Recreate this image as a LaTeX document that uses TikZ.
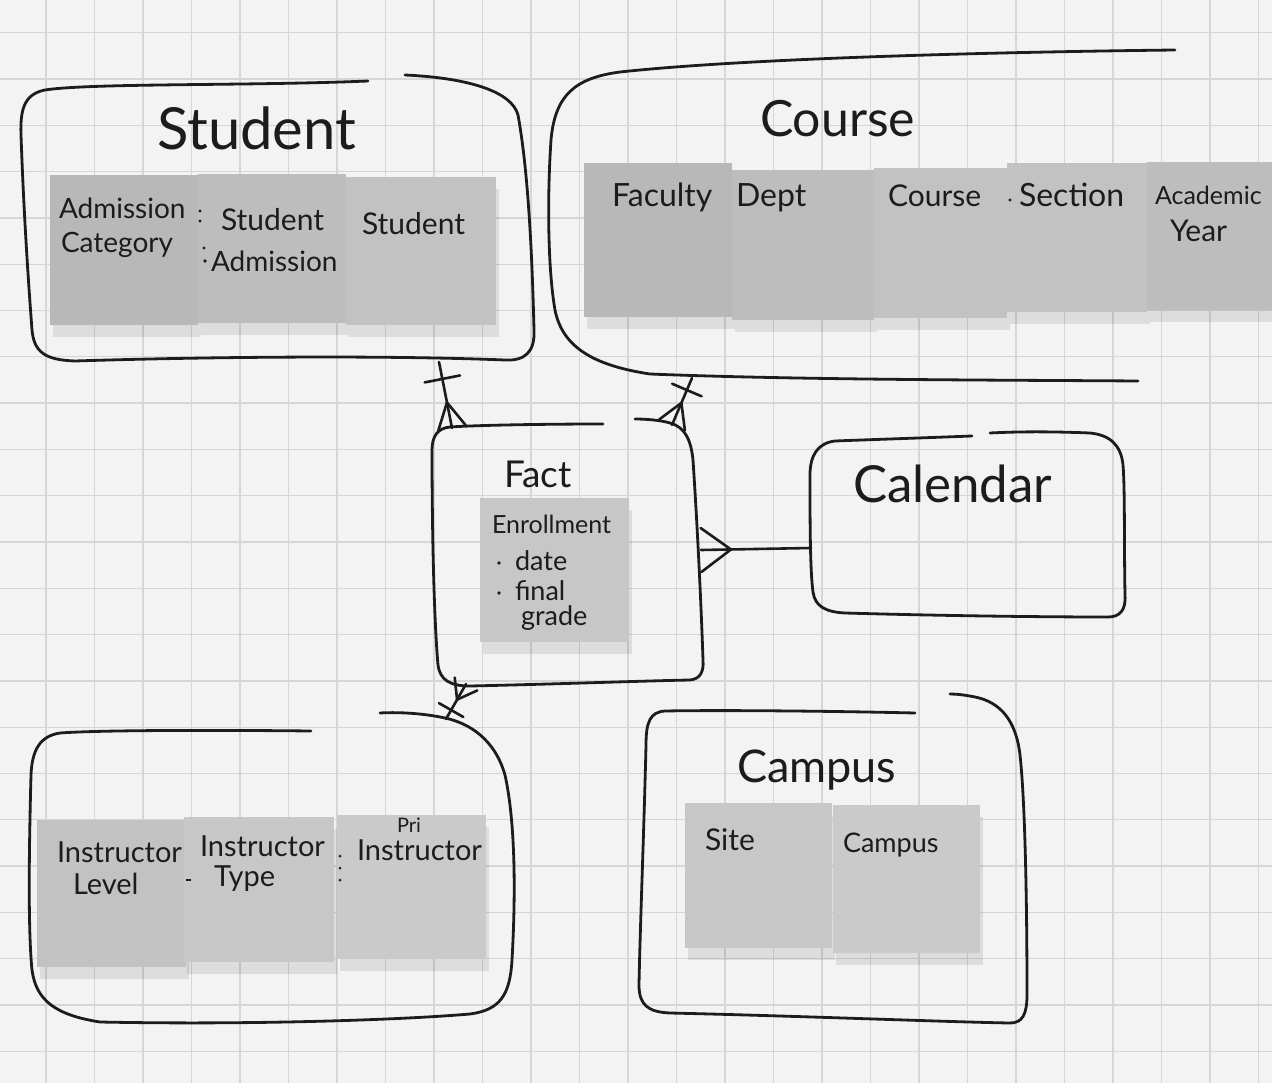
\documentclass[tikz,border=0pt]{standalone}
\usepackage{fontspec}
\setmainfont{Lato}
\usetikzlibrary{calc,shadows}
\definecolor{ink}{HTML}{1C1C1C}
\definecolor{paper}{HTML}{F3F3F3}
\definecolor{gridc}{HTML}{D6D6D6}
\definecolor{nA}{HTML}{B8B8B8}
\definecolor{nB}{HTML}{BDBDBD}
\definecolor{nC}{HTML}{C2C2C2}
\definecolor{nD}{HTML}{C7C7C7}
\definecolor{nE}{HTML}{CACACA}
\newcommand{\crowfoot}[4]{%
  \path ($(#1)!#3!(#2)$) coordinate (cfapex);
  \draw[link] ($(#1)!#4!90:(#2)$) -- (cfapex) -- ($(#1)!#4!-90:(#2)$);
}
\newcommand{\onebar}[4]{%
  \path ($(#1)!#3!(#2)$) coordinate (obmid);
  \draw[link] ($(obmid)!#4!90:(#2)$) -- ($(obmid)!#4!-90:(#2)$);
}
\begin{document}
\begin{tikzpicture}[x=1pt,y=-1pt,
  hand/.style={draw=ink,line width=2.8pt,line cap=round,line join=round},
  link/.style={draw=ink,line width=2.6pt,line cap=round,line join=round},
  gridline/.style={draw=gridc,line width=1.3pt},
  note/.style={fill=#1,draw=none,inner sep=0pt,outer sep=0pt,anchor=north west,
    drop shadow={shadow xshift=3pt,shadow yshift=-12pt,opacity=0.09,fill=black}},
  lbl/.style={anchor=base west,inner sep=0pt,outer sep=0pt,text=ink},
  fs/.style={font=\fontsize{#1}{#1}\selectfont},
  dot/.style={fill=ink}]
\useasboundingbox (0,0) rectangle (1272,1083);
\clip (0,0) rectangle (1272,1083);
% paper and grid
\fill[paper] (0,0) rectangle (1272,1083);
\foreach \i in {0,...,25} \draw[gridline] ({46+48.5*\i},0) -- ({46+48.5*\i},1083);
\foreach \k in {-1,...,21} \draw[gridline] (0,{79+46.3*\k}) -- (1272,{79+46.3*\k});

% ---------- sticky notes ----------
% Student
\node[note=nA,minimum width=148pt,minimum height=150pt] (sn1) at (50,175) {};
\node[note=nB,minimum width=148pt,minimum height=149pt] (sn2) at (198,174) {};
\node[note=nC,minimum width=150pt,minimum height=148pt] (sn3) at (346,177) {};
% Course
\node[note=nA,minimum width=148pt,minimum height=154pt] (cn1) at (584,163) {};
\node[note=nB,minimum width=142pt,minimum height=150pt] (cn2) at (732,170) {};
\node[note=nC,minimum width=133pt,minimum height=150pt] (cn3) at (874,168) {};
\node[note=nC,minimum width=140pt,minimum height=149pt] (cn4) at (1007,163) {};
\node[note=nB,minimum width=130pt,minimum height=148pt] (cn5) at (1147,162) {};
% Fact
\node[note=nD,minimum width=149pt,minimum height=144pt] (fn1) at (480,498) {};
% Instructor
\node[note=nC,minimum width=149pt,minimum height=147pt] (in1) at (37,820) {};
\node[note=nD,minimum width=150pt,minimum height=145pt] (in2) at (184,817) {};
\node[note=nE,minimum width=149pt,minimum height=144pt] (in3) at (337,815) {};
% Campus
\node[note=nD,minimum width=147pt,minimum height=145pt] (pn1) at (685,803) {};
\node[note=nE,minimum width=147pt,minimum height=148pt] (pn2) at (833,805) {};

% ---------- hand-drawn boxes ----------
% Student
\draw[hand] (368,81) .. controls (250,86) and (90,83) .. (45,90)
  .. controls (25,94) and (20,108) .. (21,135)
  .. controls (24,220) and (29,290) .. (32,330)
  .. controls (34,352) and (45,360) .. (75,361)
  .. controls (200,357) and (380,355) .. (505,360)
  .. controls (525,361) and (535,352) .. (534,330)
  .. controls (532,250) and (528,170) .. (518,115)
  .. controls (512,92) and (470,78) .. (405,75);
% Course
\draw[hand] (1175,50) .. controls (1000,52) and (750,58) .. (620,72)
  .. controls (575,78) and (555,95) .. (551,140)
  .. controls (547,200) and (548,270) .. (555,310)
  .. controls (562,345) and (590,365) .. (650,374)
  .. controls (800,380) and (1000,380) .. (1138,381);
% Fact
\draw[hand] (603,424) .. controls (550,424) and (480,425) .. (450,427)
  .. controls (438,428) and (432,436) .. (432,450)
  .. controls (432,530) and (434,620) .. (438,665)
  .. controls (440,680) and (450,686) .. (470,686)
  .. controls (560,684) and (640,681) .. (690,680)
  .. controls (700,679) and (704,672) .. (703,660)
  .. controls (701,600) and (697,520) .. (693,460)
  .. controls (691,440) and (685,427) .. (670,423)
  .. controls (660,420) and (645,419) .. (635,419);
% Calendar
\draw[hand] (972,436) .. controls (920,438) and (860,440) .. (835,441)
  .. controls (818,443) and (810,455) .. (810,475)
  .. controls (810,520) and (810,570) .. (813,592)
  .. controls (815,606) and (825,612) .. (845,613)
  .. controls (950,616) and (1050,617) .. (1108,617)
  .. controls (1120,617) and (1126,610) .. (1125,595)
  .. controls (1124,540) and (1125,490) .. (1123,465)
  .. controls (1121,445) and (1110,435) .. (1090,433)
  .. controls (1040,431) and (1010,432) .. (990,433);
% Instructor
\draw[hand] (311,731) .. controls (220,730) and (100,730) .. (60,733)
  .. controls (40,736) and (32,750) .. (31,775)
  .. controls (29,850) and (28,930) .. (32,970)
  .. controls (36,1000) and (55,1015) .. (100,1022)
  .. controls (250,1025) and (400,1020) .. (470,1014)
  .. controls (500,1010) and (510,995) .. (512,960)
  .. controls (516,890) and (515,820) .. (505,775)
  .. controls (495,740) and (470,722) .. (440,717)
  .. controls (420,713) and (395,712) .. (380,713);
% Campus
\draw[hand] (915,713) .. controls (830,711) and (720,710) .. (665,711)
  .. controls (650,712) and (646,722) .. (646,745)
  .. controls (644,830) and (640,930) .. (639,985)
  .. controls (639,1005) and (648,1012) .. (670,1013)
  .. controls (800,1016) and (950,1022) .. (1010,1023)
  .. controls (1022,1023) and (1027,1015) .. (1027,995)
  .. controls (1027,900) and (1025,800) .. (1020,755)
  .. controls (1016,720) and (1000,702) .. (975,697)
  .. controls (965,695) and (957,694) .. (950,694);

% ---------- titles ----------
\node[lbl,fs=58] (tstudent) at (157,150) {Student};
\node[lbl,fs=50] (tcourse) at (760,137) {Course};
\node[lbl,fs=37] (tfact) at (504,487) {Fact};
\node[lbl,fs=51] (tcalendar) at (853,502) {Calendar};
\node[lbl,fs=45] (tcampus) at (737,782) {Campus};

% ---------- note texts ----------
% Student
\node[lbl,fs=28] (l-adm1) at (59,219) {Admission};
\node[lbl,fs=28] (l-cat) at (61,253) {Category};
\node[lbl,fs=30] (l-stu1) at (221,231) {Student};
\node[lbl,fs=28] (l-adm2) at (211,272) {Admission};
\node[lbl,fs=30] (l-stu2) at (362,235) {Student};
\fill[dot] (200,211) circle (1.6) (200,221) circle (1.6) (204,248) circle (1.6) (205,261) circle (1.8);
% Course
\node[lbl,fs=32] (l-fac) at (612,207) {Faculty};
\node[lbl,fs=32] (l-dept) at (736,207) {Dept};
\node[lbl,fs=30] (l-crs) at (888,207) {Course};
\node[lbl,fs=32] (l-sec) at (1019,207) {Section};
\node[lbl,fs=25] (l-aca) at (1155,205) {Academic};
\node[lbl,fs=30] (l-year) at (1170,242) {Year};
\fill[dot] (1010,200) circle (1.6);
% Fact
\node[lbl,fs=25] (l-enr) at (492,533) {Enrollment};
\fill[dot] (499,563) circle (1.8) (499,593) circle (1.8);
\node[lbl,fs=27] (l-date) at (515,570) {date};
\node[lbl,fs=27] (l-final) at (515,600) {final};
\node[lbl,fs=27] (l-grade) at (521,625) {grade};
% Instructor
\node[lbl,fs=29] (l-ins1) at (57,862) {Instructor};
\node[lbl,fs=29] (l-lev) at (73,894) {Level};
\node[lbl,fs=29] (l-ins2) at (200,856) {Instructor};
\node[lbl,fs=29] (l-type) at (214,886) {Type};
\draw[ink,line width=1.8pt] (186,880) -- (191,880);
\node[lbl,fs=20] (l-pri) at (397,832) {Pri};
\node[lbl,fs=29] (l-ins3) at (357,860) {Instructor};
\fill[dot] (340,856) circle (1.5) (340,868) circle (1.5) (340,880) circle (1.5);
% Campus
\node[lbl,fs=30] (l-site) at (705,850) {Site};
\node[lbl,fs=27] (l-camp) at (843,852) {Campus};

% ---------- connectors ----------
\coordinate (fst) at (452,428);
\coordinate (stf) at (439,362);
\coordinate (fco) at (672,425);
\coordinate (cof) at (692,378);
\coordinate (fca) at (701,550);
\coordinate (caf) at (811,548);
\coordinate (fin) at (466,684);
\coordinate (inf) at (446,719);

\draw[link] (fst) -- (stf);
\crowfoot{fst}{stf}{26pt}{14pt}
\onebar{fst}{stf}{50pt}{18pt}

\draw[link] (fco) -- (cof);
\crowfoot{fco}{cof}{24pt}{14pt}
\onebar{fco}{cof}{38pt}{16pt}

\draw[link] (fca) -- (caf);
\crowfoot{fca}{caf}{30pt}{22pt}

\draw[link] (fin) -- (inf);
\crowfoot{fin}{inf}{18pt}{13pt}
\onebar{fin}{inf}{30pt}{14pt}
\end{tikzpicture}
\end{document}
